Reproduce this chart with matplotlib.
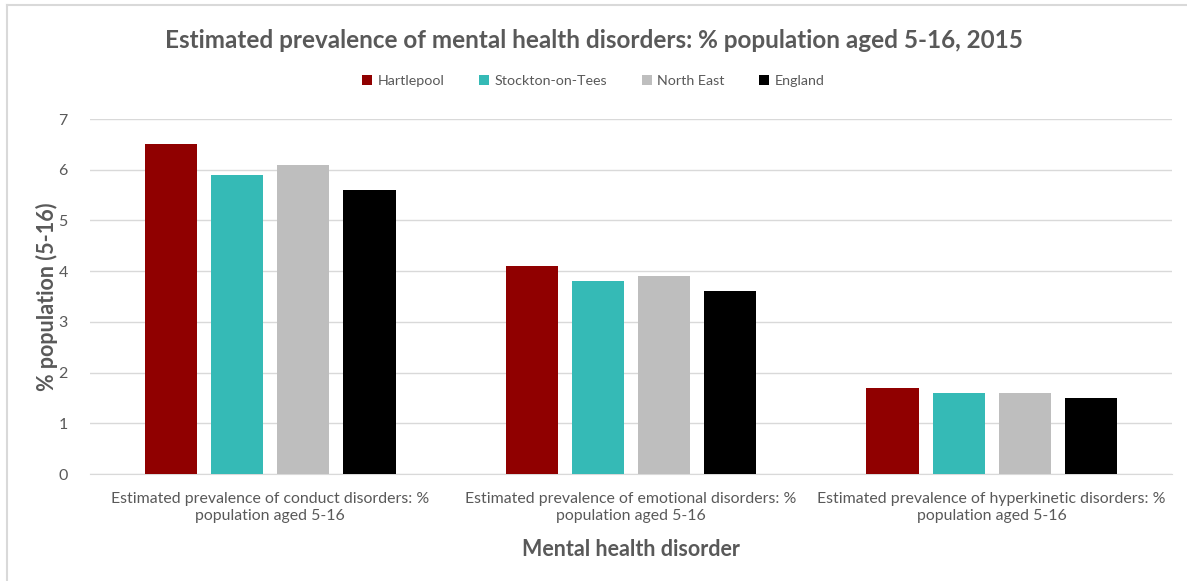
import matplotlib
matplotlib.use("Agg")
import matplotlib.pyplot as plt
import numpy as np
from matplotlib.lines import Line2D

categories = [
    "Estimated prevalence of conduct disorders: %\npopulation aged 5-16",
    "Estimated prevalence of emotional disorders: %\npopulation aged 5-16",
    "Estimated prevalence of hyperkinetic disorders: %\npopulation aged 5-16",
]
series_names = ["Hartlepool", "Stockton-on-Tees", "North East", "England"]
hartlepool = [6.5, 4.1, 1.7]
stockton = [5.9, 3.8, 1.6]
north_east = [6.1, 3.9, 1.6]
england = [5.6, 3.6, 1.5]
colors = ["#900000", "#35BAB6", "#BEBEBE", "#000000"]

plt.rcParams['font.family'] = ['Lato', 'DejaVu Sans']
txt = "#595959"

fig = plt.figure(figsize=(11.87, 5.81), dpi=100)
ax = fig.add_axes([90/1187, (581-474)/581, (1172-90)/1187, (474-119)/581])

x = np.arange(len(categories))
step = 66/360
width = 52/360
for i, (vals, name, c) in enumerate(zip([hartlepool, stockton, north_east, england], series_names, colors)):
    ax.bar(x + (i - 1.5) * step, vals, width, color=c, label=name, zorder=3)

ax.set_xlim(-0.5, 2.5)
ax.set_ylim(0, 7)
ax.set_yticks(range(0, 8))
ax.yaxis.grid(True, color="#D9D9D9", linewidth=1, zorder=0)
for s in ["top", "right", "left"]:
    ax.spines[s].set_visible(False)
ax.spines["bottom"].set_color("#D9D9D9")
ax.tick_params(axis="both", length=0, colors=txt, labelsize=11.5)
ax.tick_params(axis="y", pad=16)
ax.tick_params(axis="x", pad=13)
ax.set_xticks(x)
ax.set_xticklabels(categories, color=txt, fontsize=11.4, linespacing=1.3)

ax.set_ylabel("% population (5-16)", fontsize=15.5, fontweight="bold", color=txt, labelpad=0)
ax.set_xlabel("Mental health disorder", fontsize=15.5, fontweight="bold", color=txt, labelpad=11)

fig.text(0.5, 1 - 40/581, "Estimated prevalence of mental health disorders: % population aged 5-16, 2015",
         ha="center", va="center", fontsize=17.5, fontweight="bold", color=txt)

leg = fig.legend(loc="center", bbox_to_anchor=(0.5, 1 - 81/581), ncol=4, frameon=False,
                 fontsize=10.3, handlelength=0.7, handleheight=0.7, handletextpad=0.4,
                 columnspacing=2.4)
for t in leg.get_texts():
    t.set_color(txt)

fig.add_artist(Line2D([7/1187, 1], [1 - 5/581, 1 - 5/581], transform=fig.transFigure, color="#D9D9D9", lw=1.5))
fig.add_artist(Line2D([7/1187, 7/1187], [0, 1 - 5/581], transform=fig.transFigure, color="#D9D9D9", lw=1.5))

fig.savefig("out.png", dpi=100, facecolor="white")
